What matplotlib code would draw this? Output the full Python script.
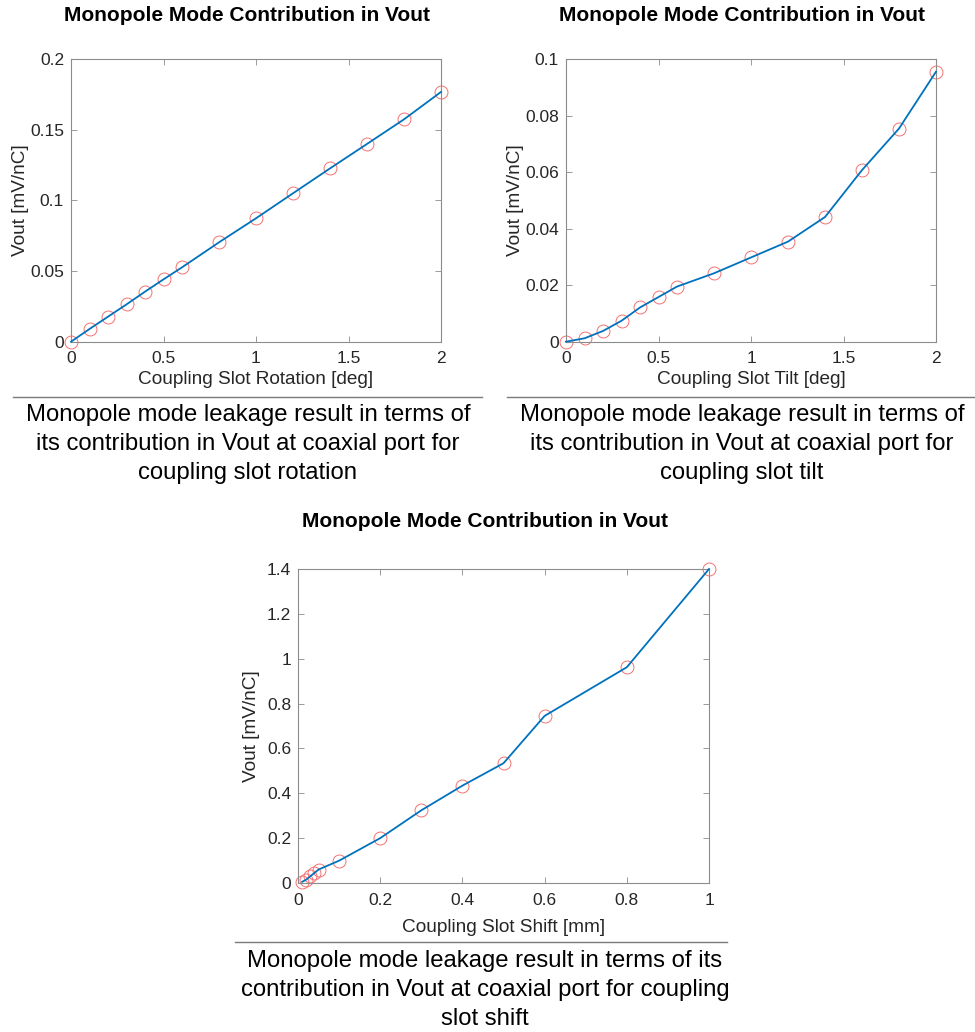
import matplotlib
matplotlib.use('Agg')
import matplotlib.pyplot as plt
from matplotlib.ticker import FuncFormatter
from matplotlib.lines import Line2D

plt.rcParams['font.family'] = ['Liberation Sans', 'DejaVu Sans']

W, H = 975, 1032

# data
rot_x = [0, 0.1, 0.2, 0.3, 0.4, 0.5, 0.6, 0.8, 1.0, 1.2, 1.4, 1.6, 1.8, 2.0]
rot_y = [0, 0.009, 0.0177, 0.0264, 0.0354, 0.0441, 0.0526, 0.0703, 0.0873,
         0.105, 0.1226, 0.1399, 0.1573, 0.1767]

tilt_x = [0, 0.1, 0.2, 0.3, 0.4, 0.5, 0.6, 0.8, 1.0, 1.2, 1.4, 1.6, 1.8, 2.0]
tilt_y = [0, 0.0012, 0.0038, 0.0074, 0.0121, 0.0158, 0.0195, 0.0242, 0.0298,
          0.0354, 0.0441, 0.0607, 0.0754, 0.0955]

shift_x = [0.01, 0.02, 0.03, 0.04, 0.05, 0.1, 0.2, 0.3, 0.4, 0.5, 0.6, 0.8, 1.0]
shift_y = [0.005, 0.015, 0.03, 0.045, 0.06, 0.0995, 0.2, 0.324, 0.434, 0.534,
           0.745, 0.962, 1.4]

title = 'Monopole Mode Contribution in Vout'
ylabel = 'Vout [mV/nC]'

# layout in pixels: axes box (left, right, top, bottom), label centres,
# title baseline, separator line, caption last-line baseline
panels = [
    dict(x=rot_x, y=rot_y, box=(71, 441, 59, 341.7), ylim=0.2,
         yticks=[0, 0.05, 0.1, 0.15, 0.2], xticks=[0, 0.5, 1, 1.5, 2],
         xlabel='Coupling Slot Rotation [deg]', xlab_y=380, ylab_x=21,
         title_xy=(247, 21), line=(13, 482, 397), cap_xy=(248, 479),
         caption='Monopole mode leakage result in terms of\n'
                 'its contribution in Vout at coaxial port for\n'
                 'coupling slot rotation'),
    dict(x=tilt_x, y=tilt_y, box=(566, 936, 59, 341.7), ylim=0.1,
         yticks=[0, 0.02, 0.04, 0.06, 0.08, 0.1], xticks=[0, 0.5, 1, 1.5, 2],
         xlabel='Coupling Slot Tilt [deg]', xlab_y=380, ylab_x=515,
         title_xy=(742, 21), line=(507, 975, 397), cap_xy=(742, 479),
         caption='Monopole mode leakage result in terms of\n'
                 'its contribution in Vout at coaxial port for\n'
                 'coupling slot tilt'),
    dict(x=shift_x, y=shift_y, box=(298, 709, 569, 883), ylim=1.4,
         yticks=[0, 0.2, 0.4, 0.6, 0.8, 1, 1.2, 1.4], xticks=[0, 0.2, 0.4, 0.6, 0.8, 1],
         xlabel='Coupling Slot Shift [mm]', xlab_y=927, ylab_x=251,
         title_xy=(485, 527), line=(235, 727, 942), cap_xy=(485, 1025),
         caption='Monopole mode leakage result in terms of its\n'
                 'contribution in Vout at coaxial port for coupling\n'
                 'slot shift'),
]

fig = plt.figure(figsize=(W / 100, H / 100), dpi=100)

fmt = FuncFormatter(lambda v, p: '%g' % v)

for p in panels:
    l, r, t, b = p['box']
    ax = fig.add_axes([l / W, 1 - b / H, (r - l) / W, (b - t) / H])
    ax.plot(p['x'], p['y'], 'o', ms=9.3, mfc='none', mec='#f47272', mew=0.7,
            clip_on=False, zorder=2)
    ax.plot(p['x'], p['y'], '-', color='#0072BD', lw=1.3, clip_on=False, zorder=3)
    ax.set_xlim(p['xticks'][0], p['xticks'][-1])
    ax.set_ylim(0, p['ylim'])
    ax.set_xticks(p['xticks'])
    ax.set_yticks(p['yticks'])
    ax.xaxis.set_major_formatter(fmt)
    ax.yaxis.set_major_formatter(fmt)
    ax.tick_params(direction='in', length=4, width=0.6, color='#8c8c8c',
                   labelsize=12.5, labelcolor='#262626', top=True, right=True)
    ax.tick_params(axis='x', pad=7)
    ax.tick_params(axis='y', pad=5)
    for s in ax.spines.values():
        s.set_color('#8c8c8c')
        s.set_linewidth(0.8)

    xl = ax.set_xlabel(p['xlabel'], fontsize=13.7, color='#262626')
    xl.set_va('center')
    ax.xaxis.set_label_coords(0.5, (b - p['xlab_y']) / (b - t))
    yl = ax.set_ylabel(ylabel, fontsize=13.7, color='#262626')
    yl.set_va('center')
    ax.yaxis.set_label_coords((p['ylab_x'] - l) / (r - l), 0.5)

    tx, ty = p['title_xy']
    fig.text(tx / W, 1 - ty / H, title, ha='center', va='baseline',
             fontsize=15, fontweight='bold')
    x0, x1, ly = p['line']
    fig.add_artist(Line2D([x0 / W, x1 / W], [1 - ly / H, 1 - ly / H],
                          color='#7a7a7a', lw=1.0))
    cx, cy = p['cap_xy']
    fig.text(cx / W, 1 - cy / H, p['caption'], ha='center', va='baseline',
             fontsize=17.2, linespacing=1.4)

fig.savefig('out.png', dpi=100)
